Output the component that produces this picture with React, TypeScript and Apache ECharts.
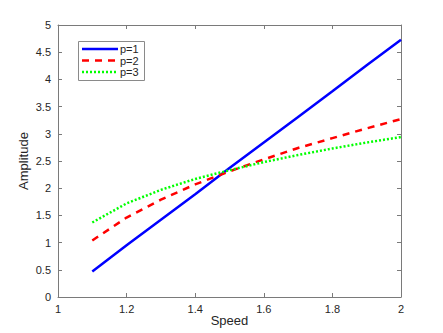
import React, { useEffect, useRef } from "react";
import * as echarts from "echarts";

const speeds = [1.1, 1.2, 1.3, 1.4, 1.5, 1.6, 1.7, 1.8, 1.9, 2.0];
const p1 = [0.47, 0.95, 1.42, 1.89, 2.37, 2.84, 3.31, 3.78, 4.26, 4.73];
const p2 = [1.04, 1.46, 1.79, 2.07, 2.31, 2.53, 2.74, 2.92, 3.1, 3.27];
const p3 = [1.37, 1.72, 1.97, 2.17, 2.33, 2.48, 2.61, 2.73, 2.84, 2.94];
const seriesNames = ["p=1", "p=2", "p=3"];
const seriesColors = ["#0000ff", "#ff0000", "#00ff00"];
const xLabel = "Speed";
const yLabel = "Amplitude";

const FONT = "Liberation Sans, Arial, sans-serif";
const TXT = "#262626";
const AX = "#7a7a7a";

export default function App() {
  const ref = useRef<HTMLDivElement>(null);
  useEffect(() => {
    if (!ref.current) return;
    const chart = echarts.init(ref.current, undefined, { renderer: "svg" });
    const mk = (ys: number[]) => speeds.map((x, i) => [x, ys[i]]);
    const axisCommon = {
      axisLine: { show: true, onZero: false, lineStyle: { color: AX, width: 1 } },
      axisTick: { show: true, inside: true, length: 4, lineStyle: { color: AX } },
      splitLine: { show: false },
    };
    const dashes: any[] = ["solid", [7, 6], [2, 2]];
    const legendEls: any[] = [
      {
        type: "rect",
        shape: { x: 78.5, y: 41.5, width: 66, height: 39 },
        style: { fill: "#fff", stroke: "#8a8a8a", lineWidth: 1 },
        z: 100,
      },
    ];
    seriesNames.forEach((n, i) => {
      const y = 49 + i * 11.5;
      legendEls.push({
        type: "line",
        shape: { x1: 82, y1: y, x2: 118, y2: y },
        style: { stroke: seriesColors[i], lineWidth: 2.5, lineDash: dashes[i] === "solid" ? null : dashes[i] },
        z: 101,
      });
      legendEls.push({
        type: "text",
        x: 120,
        y: y,
        style: { text: n, fill: TXT, font: `11px ${FONT}`, textVerticalAlign: "middle", verticalAlign: "middle" },
        z: 101,
      });
    });
    chart.setOption({
      animation: false,
      backgroundColor: "#fff",
      textStyle: { fontFamily: FONT },
      grid: { left: 58, right: 42, top: 25, bottom: 36, containLabel: false, outerBoundsMode: "none" },
      graphic: legendEls,
      xAxis: [
        {
          type: "value",
          min: 1,
          max: 2,
          interval: 0.2,
          name: xLabel,
          nameLocation: "middle",
          nameGap: 17,
          nameMoveOverlap: false,
          nameTextStyle: { fontSize: 13, color: TXT, fontFamily: FONT },
          axisLabel: { fontSize: 11, color: TXT, margin: 6, fontFamily: FONT, formatter: (v: number) => String(Math.round(v * 10) / 10) },
          ...axisCommon,
        },
        {
          type: "value",
          min: 1,
          max: 2,
          interval: 0.2,
          position: "top",
          axisLabel: { show: false },
          ...axisCommon,
        },
      ],
      yAxis: [
        {
          type: "value",
          min: 0,
          max: 5,
          interval: 0.5,
          name: yLabel,
          nameLocation: "middle",
          nameGap: 28,
          nameMoveOverlap: false,
          nameTextStyle: { fontSize: 13, color: TXT, fontFamily: FONT },
          axisLabel: { fontSize: 11, color: TXT, margin: 7, fontFamily: FONT },
          ...axisCommon,
        },
        {
          type: "value",
          min: 0,
          max: 5,
          interval: 0.5,
          position: "right",
          axisLabel: { show: false },
          ...axisCommon,
        },
      ],
      series: [
        { name: seriesNames[0], type: "line", data: mk(p1), symbol: "none", lineStyle: { color: seriesColors[0], width: 2.5 } },
        { name: seriesNames[1], type: "line", data: mk(p2), symbol: "none", lineStyle: { color: seriesColors[1], width: 2.5, type: dashes[1] } },
        { name: seriesNames[2], type: "line", data: mk(p3), symbol: "none", lineStyle: { color: seriesColors[2], width: 2.5, type: dashes[2] } },
      ],
    });
    return () => chart.dispose();
  }, []);
  return <div ref={ref} style={{ position: "fixed", left: 0, top: 0, width: 443, height: 333 }} />;
}
